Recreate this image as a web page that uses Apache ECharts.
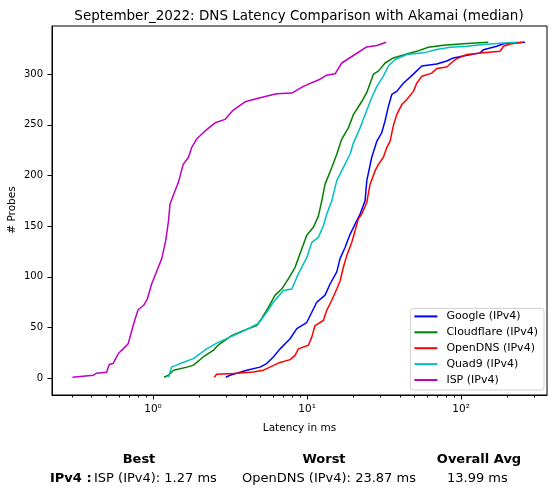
<!DOCTYPE html>
<html>
<head>
<meta charset="utf-8">
<script src="https://cdn.jsdelivr.net/npm/echarts@6/dist/echarts.min.js"></script>
<style>
  html, body { margin: 0; padding: 0; background: #fff; }
  #chart { width: 555px; height: 496px; }
</style>
</head>
<body>
<div id="chart"></div>
<script>
// [latency in ms, number of probes]
const google = [
    [2.97, 1], [3.16, 3], [3.5, 5], [4.06, 8], [4.95, 11], [5.47, 14.5], [6.04, 21],
    [6.68, 29], [7.76, 39], [8.58, 49], [9.95, 55], [11.56, 75], [13.09, 82],
    [14.1, 93], [15.59, 105], [16.38, 118], [17.64, 129], [19.02, 142], [20.5, 152],
    [22.09, 162], [23.8, 175], [24.42, 195], [26.3, 218], [28.4, 234], [30.5, 242],
    [32.1, 254], [33.7, 268], [35.5, 280], [38.2, 283], [42.2, 291], [49, 300],
    [55.6, 308], [69.5, 310], [80.7, 313], [89.1, 316], [103.5, 318], [132.8, 321],
    [139.6, 324], [170.5, 327.5], [188.3, 330], [230, 331], [260, 331.5]
];
const cloudflare = [
    [1.18, 1], [1.26, 3], [1.36, 8], [1.66, 11], [1.83, 13], [2.12, 21], [2.46, 27.5],
    [2.66, 33], [3.24, 42], [3.86, 47], [4.71, 52], [5.08, 59], [5.61, 70], [6.2, 82],
    [6.85, 88], [7.56, 98], [8.36, 109.5], [9.01, 123], [9.95, 141], [10.99, 149],
    [11.84, 160], [12.46, 175], [13.09, 191.5], [14.47, 208], [15.59, 221],
    [16.8, 236], [18.54, 247], [19.98, 260], [22.65, 273], [24.42, 282], [26.95, 300],
    [29.04, 303], [32.1, 311], [36.3, 316], [44.4, 320], [51.5, 322.5], [61.3, 326.5],
    [76.8, 328.5], [103.5, 330], [150, 331.5]
];
const openDns = [
    [2.5, 1], [2.59, 4], [3.32, 4.6], [4.48, 6.2], [5.2, 8], [5.75, 11], [6.51, 15],
    [7.76, 18.4], [8.36, 22.6], [8.78, 29], [10.2, 32.5], [10.73, 40.6], [11.27, 52],
    [12.76, 57], [13.42, 67], [14.47, 77], [15.59, 88], [16.38, 96], [17.21, 109.5],
    [18.1, 121], [19.5, 134], [20.5, 145.6], [21.5, 157], [22.65, 162], [24.42, 173.4],
    [25.65, 191.5], [27.65, 204.6], [29.04, 211], [31.3, 218], [32.9, 227.5],
    [34.6, 234], [36.3, 249], [38.2, 260], [41.2, 270], [44.4, 275], [49, 283],
    [51.5, 291], [55.6, 298], [64.5, 301], [69.5, 305.6], [80.7, 307], [89.1, 313],
    [96, 316], [108.9, 319.4], [139.6, 321], [179, 322.6], [188.3, 327.5], [208, 329.8],
    [250, 331.5]
];
const quad9 = [
    [1.26, 1], [1.32, 11], [1.5, 14.5], [1.83, 19.4], [2.23, 29], [2.59, 34.7],
    [3.16, 40.6], [3.86, 46.5], [4.83, 54], [5.47, 65], [6.04, 75], [7.02, 86.6],
    [7.96, 88], [8.78, 103], [9.95, 119], [10.73, 134], [11.84, 139], [12.76, 150.5],
    [13.42, 162], [14.47, 175], [15.59, 195], [17.21, 208], [19.02, 221], [19.98, 232],
    [22.09, 247], [23.8, 260], [26.3, 277], [28.4, 288], [31.3, 298], [33.7, 308],
    [37.3, 314.5], [44.4, 319.4], [56.9, 321], [69.5, 324.3], [84.8, 326.5],
    [108.9, 327.5], [139.6, 329.2], [170.5, 330.2], [230, 331.5]
];
const isp = [
    [0.3, 1], [0.41, 3], [0.43, 5], [0.5, 6], [0.52, 13.5], [0.55, 14.5], [0.6, 25],
    [0.64, 29], [0.69, 34], [0.75, 54], [0.8, 67.6], [0.87, 72], [0.92, 78.4],
    [0.98, 93], [1.06, 106], [1.14, 118], [1.21, 136], [1.26, 155], [1.29, 172],
    [1.39, 185], [1.46, 193], [1.57, 211], [1.7, 218], [1.78, 227.5], [1.92, 236],
    [2.18, 244], [2.53, 252], [2.94, 255.4], [3.32, 264.6], [3.96, 272.7], [4.95, 276.7],
    [6.35, 280.6], [7.96, 281.3], [9.46, 288], [12.14, 295], [13.42, 299], [15.2, 300.3],
    [16.8, 311], [19.98, 318.4], [24.4, 326.8], [28.4, 328.2], [32.6, 331.5]
];

const seriesNames = ['Google (IPv4)', 'Cloudflare (IPv4)', 'OpenDNS (IPv4)', 'Quad9 (IPv4)', 'ISP (IPv4)'];
const seriesData = [google, cloudflare, openDns, quad9, isp];
const seriesColors = ['#0000ff', '#008000', '#ff0000', '#00bfbf', '#bf00bf'];

const yTicks = [0, 50, 100, 150, 200, 250, 300];
const xTicks = [1, 10, 100];
const xTickLabels = { 1: '10\u2070', 10: '10\u00b9', 100: '10\u00b2' };
const xMinorTicks = [0.3, 0.4, 0.5, 0.6, 0.7, 0.8, 0.9, 2, 3, 4, 5, 6, 7, 8, 9,
    20, 30, 40, 50, 60, 70, 80, 90, 200, 300];

const headers = ['Best', 'Worst', 'Overall Avg'];
const rowLabel = 'IPv4 :';
const rowValues = ['ISP (IPv4): 1.27 ms', 'OpenDNS (IPv4): 23.87 ms', '13.99 ms'];

const font = 'DejaVu Sans';
const xMin = 0.221, xMax = 361;

const chart = echarts.init(document.getElementById('chart'));

// table under the plot, plus the y axis title
const headerX = [139, 324, 479];
const extraText = [{
    type: 'text',
    x: 12, y: 210, rotation: Math.PI / 2,
    style: {
        x: 0, y: 0, text: '# Probes', fill: '#000',
        font: '10.5px "DejaVu Sans"', textAlign: 'center', textVerticalAlign: 'middle'
    }
}];
headers.forEach((h, i) => {
    extraText.push({
        type: 'text',
        style: {
            x: headerX[i], y: 460, text: h, fill: '#000',
            font: 'bold 13px "DejaVu Sans"', textAlign: 'center', textVerticalAlign: 'middle'
        }
    });
});
extraText.push({
    type: 'text',
    style: {
        x: 50, y: 479, text: rowLabel, fill: '#000',
        font: 'bold 13px "DejaVu Sans"', textVerticalAlign: 'middle'
    }
});
const valueX = [94, 242, 447];
rowValues.forEach((v, i) => {
    extraText.push({
        type: 'text',
        style: {
            x: valueX[i], y: 479, text: v, fill: '#000',
            font: '13px "DejaVu Sans"', textVerticalAlign: 'middle'
        }
    });
});

const option = {
    animation: false,
    textStyle: { fontFamily: font },
    title: {
        text: 'September_2022: DNS Latency Comparison with Akamai (median)',
        left: 294,
        top: 4,
        textAlign: 'center',
        textStyle: { fontFamily: font, fontSize: 13.5, fontWeight: 'normal', color: '#000' }
    },
    grid: {
        left: 52, right: 8, top: 26, bottom: 101,
        outerBoundsMode: 'none',
        show: true, borderColor: '#000', borderWidth: 1, backgroundColor: '#fff'
    },
    legend: {
        orient: 'vertical',
        right: 11,
        bottom: 106,
        data: seriesNames,
        itemWidth: 23,
        itemHeight: 12,
        itemGap: 3.9,
        padding: [2, 6, 4, 3],
        borderColor: '#d0d0d0',
        borderWidth: 1,
        borderRadius: 3,
        backgroundColor: 'rgba(255,255,255,0.8)',
        itemStyle: { opacity: 0 },
        textStyle: { fontFamily: font, fontSize: 11, lineHeight: 12, color: '#000', padding: [0, 0, 0, 4] }
    },
    xAxis: [{
        type: 'log',
        min: xMin,
        max: xMax,
        name: 'Latency in ms',
        nameLocation: 'middle',
        nameGap: 28,
        nameTextStyle: { fontFamily: font, fontSize: 10.5, color: '#000' },
        axisLine: { show: true, onZero: false, lineStyle: { color: '#000' } },
        axisTick: { show: true, length: 4.5, lineStyle: { color: '#000' }, customValues: xTicks },
        axisLabel: {
            color: '#000', fontFamily: font, fontSize: 10.5, margin: 9,
            customValues: xTicks,
            formatter: v => xTickLabels[Math.round(v)] || ''
        },
        splitLine: { show: false }
    }, {
        type: 'log',
        min: xMin,
        max: xMax,
        position: 'bottom',
        axisLine: { show: false, onZero: false },
        axisTick: { show: true, length: 2.5, lineStyle: { color: '#000' }, customValues: xMinorTicks },
        axisLabel: { show: false },
        splitLine: { show: false }
    }],
    yAxis: {
        type: 'value',
        min: -16.5,
        max: 347.5,
        axisLine: { show: true, onZero: false, lineStyle: { color: '#000' } },
        axisTick: { show: true, length: 4.5, lineStyle: { color: '#000' }, customValues: yTicks },
        axisLabel: { color: '#000', fontFamily: font, fontSize: 10, margin: 9, customValues: yTicks },
        splitLine: { show: false }
    },
    series: seriesNames.map((name, i) => ({
        name: name,
        type: 'line',
        xAxisIndex: 0,
        data: seriesData[i],
        symbol: 'none',
        color: seriesColors[i],
        lineStyle: { width: 1.5, color: seriesColors[i] }
    })),
    graphic: extraText
};

chart.setOption(option);
</script>
</body>
</html>
